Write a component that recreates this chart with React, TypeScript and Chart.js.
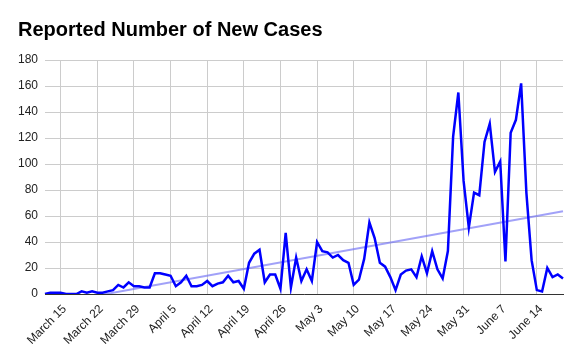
import React, { useEffect, useRef } from "react";
import { Chart, registerables } from "chart.js";

Chart.register(...registerables);

const chartTitle = "Reported Number of New Cases";
const startYear = 2020;
const startMonthIndex = 2; // March
const startDay = 12;

// Daily reported new cases, March 12 .. June 19
const newCases = [
  0, 1, 1, 1, 0, 0, 0, 2, 1, 2,
  1, 1, 2, 3, 7, 5, 9, 6, 6, 5,
  5, 16, 16, 15, 14, 6, 9, 14, 6, 6,
  7, 10, 6, 8, 9, 14, 9, 10, 4, 24,
  31, 34, 9, 15, 15, 4, 47, 5, 28, 10,
  19, 10, 40, 33, 32, 28, 30, 26, 24, 7,
  11, 27, 55, 43, 24, 21, 13, 3, 15, 18,
  19, 13, 29, 16, 33, 19, 12, 33, 121, 155,
  87, 51, 78, 76, 117, 131, 94, 102, 25, 124,
  134, 162, 78, 26, 3, 2, 20, 13, 15, 12,
];

// Linear trend line end values (first and last day)
const trendValues = [-8.5, 63.6];

const tickLabels = [
  "March 15", "March 22", "March 29", "April 5", "April 12", "April 19", "April 26",
  "May 3", "May 10", "May 17", "May 24", "May 31", "June 7", "June 14",
];

const yMin = 0;
const yMax = 180;
const yStep = 20;

const MONTHS = [
  "January", "February", "March", "April", "May", "June",
  "July", "August", "September", "October", "November", "December",
];

function buildDays(count: number): string[] {
  const out: string[] = [];
  for (let i = 0; i < count; i++) {
    const d = new Date(Date.UTC(startYear, startMonthIndex, startDay + i));
    out.push(MONTHS[d.getUTCMonth()] + " " + d.getUTCDate());
  }
  return out;
}

const FONT = "'Liberation Sans', Arial, sans-serif";

export default function App() {
  const ref = useRef<HTMLCanvasElement | null>(null);

  useEffect(() => {
    document.body.style.margin = "0";
    const canvas = ref.current;
    if (!canvas) return;
    const days = buildDays(newCases.length);
    const chart = new Chart(canvas, {
      type: "line",
      data: {
        labels: days,
        datasets: [
          {
            label: "Trend",
            data: [
              { x: days[0], y: trendValues[0] },
              { x: days[days.length - 1], y: trendValues[1] },
            ] as any,
            borderColor: "rgba(110, 110, 245, 0.65)",
            borderWidth: 2,
            pointRadius: 0,
            tension: 0,
            order: 2,
          },
          {
            label: "New cases",
            data: newCases,
            borderColor: "#0000ff",
            borderWidth: 2.5,
            pointRadius: 0,
            tension: 0,
            order: 1,
          },
        ],
      },
      options: {
        animation: false,
        responsive: false,
        devicePixelRatio: 1,
        layout: { padding: { left: 18, right: 18, top: 0, bottom: 0 } },
        plugins: {
          legend: { display: false },
          tooltip: { enabled: false },
          title: {
            display: true,
            text: chartTitle,
            align: "start",
            color: "#000000",
            font: { family: FONT, size: 20, weight: "bold" },
            padding: { top: 18, bottom: 18 },
          },
        },
        scales: {
          x: {
            type: "category",
            grid: { color: "#cccccc", drawTicks: false },
            border: { color: "#333333", width: 1 },
            ticks: {
              autoSkip: false,
              minRotation: 45,
              maxRotation: 45,
              color: "#222222",
              font: { family: FONT, size: 12 },
              padding: 8,
              labelOffset: 4,
            },
            afterBuildTicks: (scale: any) => {
              scale.ticks = scale.ticks.filter((t: any) =>
                tickLabels.includes(days[t.value])
              );
            },
            afterFit: (scale: any) => {
              scale.height = 65;
            },
          },
          y: {
            min: yMin,
            max: yMax,
            ticks: {
              stepSize: yStep,
              color: "#222222",
              font: { family: FONT, size: 12 },
              padding: 7,
            },
            grid: { color: "#cccccc", drawTicks: false },
            border: { display: false },
            afterFit: (scale: any) => {
              scale.width = 27;
            },
          },
        },
      },
    });
    return () => chart.destroy();
  }, []);

  return (
    <div style={{ position: "fixed", left: 0, top: 0, width: 581, height: 359, background: "#fff" }}>
      <canvas ref={ref} width={581} height={359} />
    </div>
  );
}
